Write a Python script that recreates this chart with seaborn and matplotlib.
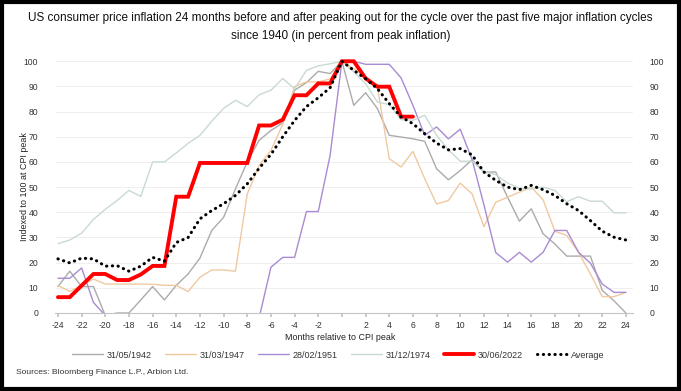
import numpy as np
import pandas as pd
import matplotlib.pyplot as plt
import seaborn as sns
from matplotlib.lines import Line2D
from matplotlib.patches import Rectangle

sns.set_theme(style="white")
plt.rcParams["font.family"] = ["Liberation Sans", "DejaVu Sans"]

# months relative to the CPI peak
months = list(range(-24, 25))

cpi_1942 = [10.5, 16.6, 10.5, 10.5, -1, 0, 0, 5.2, 10.5, 5.2, 11, 15.5, 21.8, 32.8, 38, 49.3,
            60, 68.6, 72.5, 75.5, 88.5, 91.5, 96, 95.1, 100,
            82.5, 87.5, 81.2, 70.6, 69.9, 69.2, 68.2, 57.3, 52.9, 56.6, 60.9, 56, 56, 46, 36.5,
            41.4, 31.5, 27.4, 22.6, 22.6, 22.6, 9, 4.8, 0]
cpi_1947 = [10.9, 8.6, 10.9, 13.5, 11.5, 11.5, 11.5, 11.5, 11.4, 11, 11, 8.5, 14.2, 17.1, 17.1, 16.6,
            47.3, 58.6, 64.6, 75, 90, 91.8, 91.8, 93, 100,
            97, 93.8, 89.8, 61.3, 58, 64.2, 53.3, 43.3, 44.7, 51.6, 47.3, 34.3, 44, 46, 48,
            50, 45, 32.5, 30.8, 24.1, 15.5, 6.5, 6.5, 8.2]
cpi_1951 = [13.8, 13.8, 17.9, 4.2, -1, np.nan, np.nan, np.nan, np.nan, np.nan, np.nan, np.nan,
            np.nan, np.nan, np.nan, np.nan, np.nan, -2, 18.2, 22.1, 22.1, 40.3, 40.3, 62.6, 100,
            100, 98.8, 98.8, 98.8, 93.4, 82.5, 70.6, 73.9, 69.2, 73, 61, 43, 24, 20.2, 24.1,
            20.2, 24.1, 32.8, 32.8, 24.1, 19.8, 11.5, 8.2, 8.2]
cpi_1974 = [27.5, 29, 31.7, 37.2, 41.2, 44.7, 48.7, 46.3, 60, 60, 63.6, 67.4, 70.6, 76.2, 81.3, 84.5,
            82, 86.7, 88.5, 93.2, 89, 96.4, 98.2, 99, 100,
            95.8, 91.1, 83.8, 82.8, 76.8, 76.6, 78.5, 70.6, 64.8, 60.3, 60.3, 56, 55, 51.6, 49.5,
            49.3, 50, 48.7, 44.2, 46.2, 44.4, 44.4, 39.8, 39.8]
cpi_2022 = [6.3, 6.3, 10.9, 15.5, 15.5, 13.1, 13.1, 15.3, 18.7, 18.7, 46.2, 46.2, 59.6, 59.6, 59.6, 59.6,
            59.6, 74.5, 74.5, 76.8, 86.5, 86.5, 91.2, 91.2, 100,
            100, 93.2, 89.9, 89.9, 78, 78] + [np.nan] * 18
average = [21.5, 19.9, 21.8, 21.5, 18.6, 18.8, 16.6, 18.6, 22.1, 20.6, 28, 30, 37.4, 40.7, 43.4, 46.7,
           51.3, 57.5, 63, 70, 76.5, 82, 85.5, 89.5, 100,
           96.4, 93.1, 89.1, 83.2, 77.9, 75.2, 71.2, 67.5, 64.8, 65.3, 62.8, 56, 52.7, 50, 49,
           50.7, 49, 46.7, 43.4, 40.7, 36.7, 32.5, 30.1, 29]

labels = ["31/05/1942", "31/03/1947", "28/02/1951", "31/12/1974", "30/06/2022", "Average"]
colors = ["#ababab", "#f0c9a0", "#a88bd2", "#c9dad2", "#ff0000", "#000000"]
dotted = (0, (0.1, 1.8))

fig = plt.figure(figsize=(6.81, 3.91), dpi=100)
ax = fig.add_axes([55 / 681, 1 - 313 / 391, 578 / 681, 255.5 / 391])

cycles = [cpi_1942, cpi_1947, cpi_1951, cpi_1974]
for vals, label, color in zip(cycles, labels[:4], colors[:4]):
    df = pd.DataFrame({"month": months, "value": vals})
    sns.lineplot(data=df, x="month", y="value", color=color, lw=1.0, ax=ax)

df = pd.DataFrame({"month": months, "value": cpi_2022})
sns.lineplot(data=df, x="month", y="value", color=colors[4], lw=2.8, ax=ax,
             solid_joinstyle="miter")
df = pd.DataFrame({"month": months, "value": average})
sns.lineplot(data=df, x="month", y="value", color=colors[5], lw=2.2, ax=ax,
             linestyle=dotted, dash_capstyle="round")

ax.set_xlim(-24.25, 24.6)
ax.set_ylim(0, 101.5)
xt = list(range(-24, 25, 2))
ax.set_xticks(xt)
ax.set_xticklabels(["" if t == 0 else str(t) for t in xt])
ax.set_yticks(range(0, 101, 10))
ax.set_xlabel("")
ax.set_ylabel("")
ax.grid(axis="y", color="#ededed", lw=0.6)
ax.set_axisbelow(True)
for s in ["left", "right", "top"]:
    ax.spines[s].set_visible(False)
ax.spines["bottom"].set_color("#c4c4c4")
ax.spines["bottom"].set_linewidth(0.8)
ax.tick_params(axis="y", left=False, right=False, labelleft=True, labelright=True,
               labelsize=6.2, labelcolor="#333333", pad=6)
ax.tick_params(axis="x", bottom=True, length=3, color="#c4c4c4", labelsize=6.2,
               labelcolor="#333333", pad=2.5)

fig.text(0.5, 1 - 18 / 391, "US consumer price inflation 24 months before and after peaking out for the cycle "
         "over the past five major inflation cycles", ha="center", va="center", fontsize=8.45, color="#111111")
fig.text(0.5, 1 - 36.5 / 391, "since 1940 (in percent from peak inflation)", ha="center", va="center",
         fontsize=8.45, color="#111111")
fig.text(24.5 / 681, 1 - 187 / 391, "Indexed to 100 at CPI peak", rotation=90, ha="center", va="center",
         fontsize=6.4, color="#222222")
fig.text(0.5, 1 - 338 / 391, "Months relative to CPI peak", ha="center", va="center",
         fontsize=6.4, color="#222222")
fig.text(16 / 681, 1 - 372 / 391, "Sources: Bloomberg Finance L.P., Arbion Ltd.", ha="left", va="center",
         fontsize=6.1, color="#333333")

handles = [Line2D([0], [0], color=c, lw=1.0) for c in colors[:4]]
handles.append(Line2D([0], [0], color=colors[4], lw=2.8))
handles.append(Line2D([0], [0], color=colors[5], lw=2.2, linestyle=dotted, dash_capstyle="round"))
fig.legend(handles, labels, loc="center", bbox_to_anchor=(0.497, 1 - 355 / 391), ncol=6,
           frameon=False, fontsize=6.5, handlelength=3.4, handletextpad=0.4, columnspacing=1.5,
           labelcolor="#333333")

fig.patches.append(Rectangle((2 / 681, 2.2 / 391), 677 / 681, 386.6 / 391, transform=fig.transFigure,
                             fill=False, edgecolor="black", lw=3.0))

fig.savefig("out.png", dpi=100)
